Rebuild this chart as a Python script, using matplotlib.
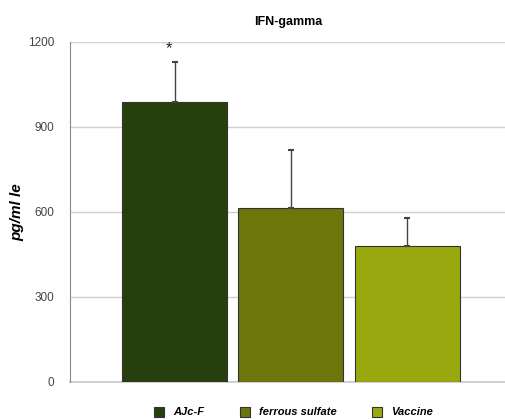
import matplotlib.pyplot as plt
from matplotlib.patches import Patch

plt.rcParams['font.family'] = ['Liberation Sans', 'DejaVu Sans']

groups = ["AJc-F", "ferrous sulfate", "Vaccine"]
means = [988, 614, 480]
errors = [139, 203, 99]
colors = ["#273f0c", "#6c760a", "#9aa80f"]
yticks = [0, 300, 600, 900, 1200]

fig = plt.figure(figsize=(5.06, 4.19), dpi=100)
ax = fig.add_axes([0.138, 0.089, 0.862, 0.8115])

x = list(range(len(groups)))
ax.bar(x, means, width=0.905, color=colors, edgecolor="#333333", linewidth=0.8, zorder=3)
ax.errorbar(x, means, yerr=[[0] * len(errors), errors], fmt="none",
            ecolor="#444444", elinewidth=1, capsize=2.5, capthick=1.5, zorder=4)

# significance mark
ax.text(x[0] - 0.05, means[0] + errors[0] + 50, "*", ha="center", va="center",
        fontsize=12, color="#222222")

ax.set_xlim(-0.9, 2.85)
ax.set_ylim(0, 1200)
ax.set_yticks(yticks)
ax.set_xticks([])
ax.yaxis.grid(True, color="#d0d0d0", linewidth=1.0, zorder=0)
ax.axhline(0, color="#c8c8c8", linewidth=1.2, zorder=2, clip_on=False)
ax.set_axisbelow(True)
for side in ["top", "right", "bottom"]:
    ax.spines[side].set_visible(False)
ax.spines["left"].set_color("#888888")
ax.tick_params(axis="y", length=0, pad=11, labelsize=8.5, labelcolor="#444444")

ax.set_ylabel("pg/ml le", fontsize=11, fontweight="bold", fontstyle="italic", labelpad=3)
ax.set_title("IFN-gamma", fontsize=9, fontweight="bold", pad=12)

handles = [Patch(facecolor=c, edgecolor="#333333", linewidth=0.8) for c in colors]
fig.legend(handles, groups, loc="lower center", bbox_to_anchor=(0.58, -0.02), ncol=3,
           frameon=False, handlelength=0.9, handleheight=1.0, columnspacing=3.2,
           prop={"size": 8, "weight": "bold", "style": "italic"})

fig.savefig("out.png", dpi=100)
